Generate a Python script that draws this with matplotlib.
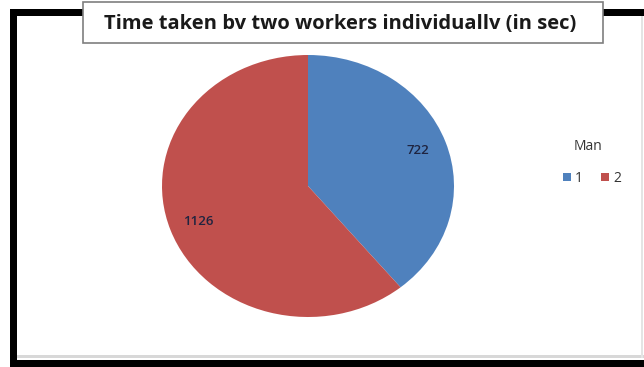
import matplotlib
matplotlib.use('Agg')
import matplotlib.pyplot as plt
from matplotlib.patches import Rectangle, Patch

W, H = 644, 367

# data
workers = ['1', '2']
times = [722, 1126]
colors = ['#4F81BD', '#C0504D']
title = 'Time taken bv two workers individuallv (in sec)'
legend_title = 'Man'

plt.rcParams['font.family'] = ['Open Sans', 'DejaVu Sans']

fig = plt.figure(figsize=(W / 100, H / 100), dpi=100)


def box(x0, y0, x1, y1, **kw):
    # rectangle in pixel coords (top-left origin)
    r = Rectangle((x0 / W, 1 - y1 / H), (x1 - x0) / W, (y1 - y0) / H,
                  transform=fig.transFigure, zorder=-5, **kw)
    fig.patches.append(r)


# outer black frame, white inside
box(10, 9, 660, 370, facecolor='black', edgecolor='none')
box(17, 16, 660, 360, facecolor='white', edgecolor='none')
box(17, 355, 660, 358, facecolor='#d8d8d8', edgecolor='none')
box(641, 16, 643, 358, facecolor='#e4e4e4', edgecolor='none')

# title box
box(83, 2, 603, 43, facecolor='white', edgecolor='#7f7f7f', linewidth=1.2)
fig.text(340 / W, 1 - 24 / H, title, ha='center', va='center',
         fontsize=14.5, fontweight='bold', color='#1a1a1a')

# pie, stretched to an ellipse
cx, cy, rx, ry = 308, 186, 146, 131
ax = fig.add_axes([(cx - rx) / W, 1 - (cy + ry) / H, 2 * rx / W, 2 * ry / H])
ax.set_zorder(5)
total = sum(times)
wedges, texts, autotexts = ax.pie(
    times, colors=colors, startangle=90, counterclock=False,
    autopct=lambda p: f'{round(p * total / 100)}', pctdistance=0.8,
    wedgeprops=dict(linewidth=0))
for t in autotexts:
    t.set_fontsize(9.5)
    t.set_fontweight('semibold')
    t.set_color('#1f2440')
ax.set_aspect('auto')
ax.set_xlim(-1, 1)
ax.set_ylim(-1, 1)
ax.axis('off')

fig.text(588 / W, 1 - 146 / H, legend_title, ha='center', va='center',
         fontsize=10, color='#333333')
handles = [Patch(facecolor=c, edgecolor='none') for c in colors]
leg = fig.legend(handles, workers, loc='center',
                 bbox_to_anchor=(592 / W, 1 - 178 / H), ncol=2,
                 frameon=False, fontsize=10, borderpad=0, borderaxespad=0,
                 handlelength=0.6, handleheight=0.5, handletextpad=0.3,
                 columnspacing=1.3)
for t in leg.get_texts():
    t.set_color('#333333')

fig.savefig('out.png', dpi=100)
